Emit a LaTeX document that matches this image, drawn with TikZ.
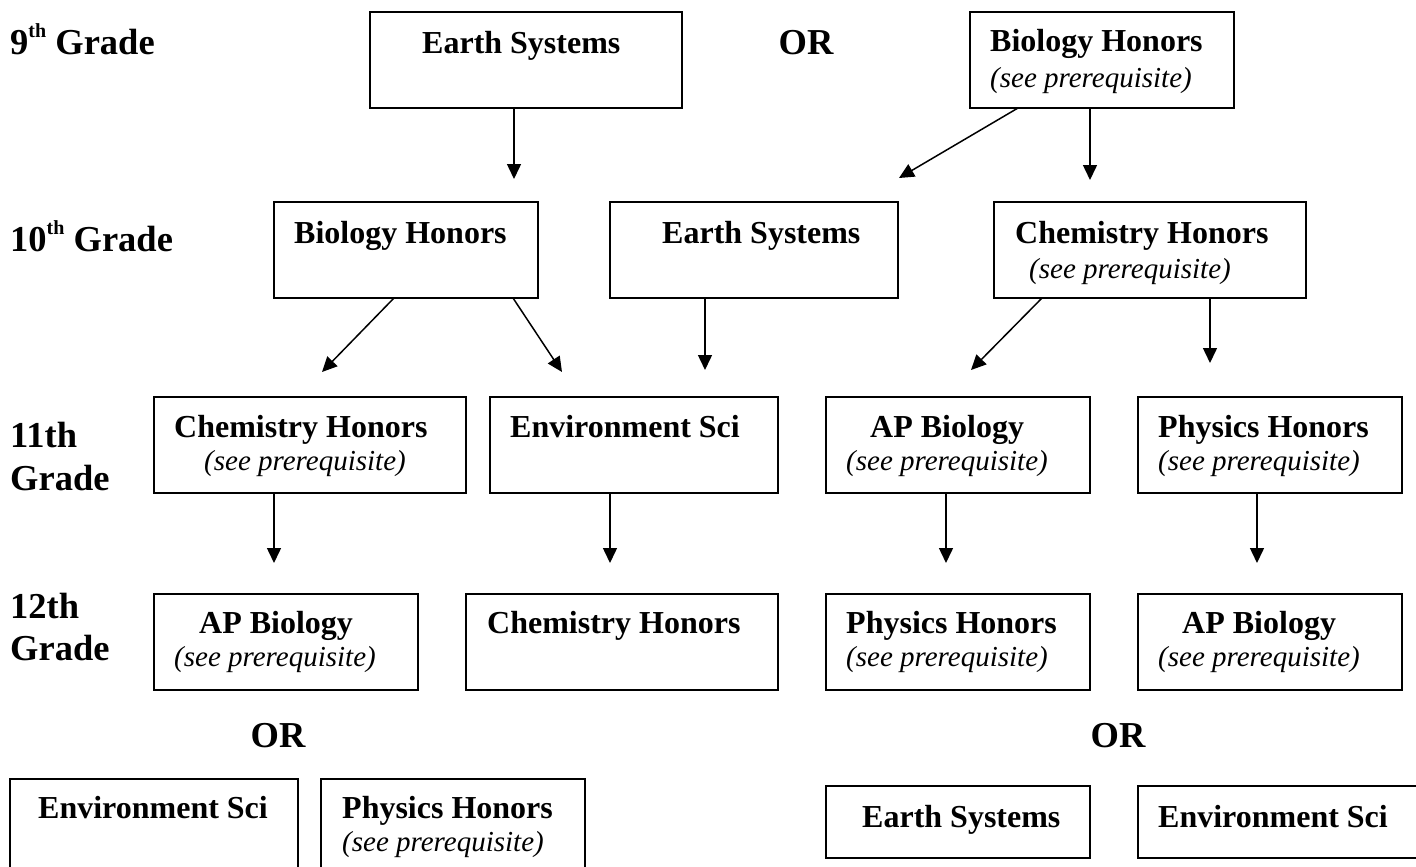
\documentclass[tikz,border=0pt]{standalone}
\usepackage{fontspec}
\setmainfont{Liberation Serif}
\usetikzlibrary{arrows.meta}
\newcommand{\supth}{\raisebox{17pt}{\fontsize{20}{20}\selectfont th}}
\tikzset{
  box/.style={draw, line width=2pt, rectangle, inner sep=0pt, outer sep=0pt},
  bt/.style={inner sep=0pt, anchor=base west, font=\fontsize{32}{38}\selectfont\bfseries},
  it/.style={inner sep=0pt, anchor=base west, font=\fontsize{29}{34}\selectfont\itshape},
  gl/.style={inner sep=0pt, anchor=base west, font=\fontsize{36.5}{42}\selectfont\bfseries},
  orl/.style={inner sep=0pt, anchor=base, font=\fontsize{36.5}{42}\selectfont\bfseries},
  arr/.style={line width=1.5pt, -{Triangle[length=15pt,width=14pt]}}
}
\begin{document}
\begin{tikzpicture}[x=1pt,y=-1pt]
\useasboundingbox (0,0) rectangle (1416,867);
\clip (0,0) rectangle (1416,867);

% grade labels
\node[gl] (g9) at (10,55) {9\supth\ Grade};
\node[gl] (g10) at (10,251) {10\supth\ Grade};
\node[gl] (g11a) at (10,447) {11th};
\node[gl] (g11b) at (10,490) {Grade};
\node[gl] (g12a) at (10,618) {12th};
\node[gl] (g12b) at (10,660) {Grade};

% OR labels
\node[orl] (or1) at (806,55) {OR};
\node[orl] (or2) at (278,747) {OR};
\node[orl] (or3) at (1118,747) {OR};

% boxes
\node[box, minimum width=312pt, minimum height=96pt] (es9) at (526,60) {};
\node[box, minimum width=264pt, minimum height=96pt] (bh9) at (1102,60) {};
\node[box, minimum width=264pt, minimum height=96pt] (bh10) at (406,250) {};
\node[box, minimum width=288pt, minimum height=96pt] (es10) at (754,250) {};
\node[box, minimum width=312pt, minimum height=96pt] (ch10) at (1150,250) {};
\node[box, minimum width=312pt, minimum height=96pt] (ch11) at (310,445) {};
\node[box, minimum width=288pt, minimum height=96pt] (es11) at (634,445) {};
\node[box, minimum width=264pt, minimum height=96pt] (ap11) at (958,445) {};
\node[box, minimum width=264pt, minimum height=96pt] (ph11) at (1270,445) {};
\node[box, minimum width=264pt, minimum height=96pt] (ap12) at (286,642) {};
\node[box, minimum width=312pt, minimum height=96pt] (ch12) at (622,642) {};
\node[box, minimum width=264pt, minimum height=96pt] (ph12) at (958,642) {};
\node[box, minimum width=264pt, minimum height=96pt] (ap12b) at (1270,642) {};
\node[box, minimum width=288pt, minimum height=122pt] (envl) at (154,840) {};
\node[box, minimum width=264pt, minimum height=122pt] (phl) at (453,840) {};
\node[box, minimum width=264pt, minimum height=72pt] (esr) at (958,822) {};
\node[box, minimum width=292pt, minimum height=72pt] (envr) at (1284,822) {};

% box texts
\node[bt] (t1) at (422,53) {Earth Systems};
\node[bt] (t2) at (990,52) {Biology Honors};
\node[it] (t3) at (990,87) {(see prerequisite)};
\node[bt] (t4) at (294,243) {Biology Honors};
\node[bt] (t5) at (662,243) {Earth Systems};
\node[bt] (t6) at (1015,243) {Chemistry Honors};
\node[it] (t7) at (1029,278) {(see prerequisite)};
\node[bt] (t8) at (174,437) {Chemistry Honors};
\node[it] (t9) at (204,470) {(see prerequisite)};
\node[bt] (t10) at (510,437) {Environment Sci};
\node[bt] (t11) at (870,437) {AP Biology};
\node[it] (t12) at (846,470) {(see prerequisite)};
\node[bt] (t13) at (1158,437) {Physics Honors};
\node[it] (t14) at (1158,470) {(see prerequisite)};
\node[bt] (t15) at (199,633) {AP Biology};
\node[it] (t16) at (174,666) {(see prerequisite)};
\node[bt] (t17) at (487,633) {Chemistry Honors};
\node[bt] (t18) at (846,633) {Physics Honors};
\node[it] (t19) at (846,666) {(see prerequisite)};
\node[bt] (t20) at (1182,633) {AP Biology};
\node[it] (t21) at (1158,666) {(see prerequisite)};
\node[bt] (t22) at (38,818) {Environment Sci};
\node[bt] (t23) at (342,818) {Physics Honors};
\node[it] (t24) at (342,851) {(see prerequisite)};
\node[bt] (t25) at (862,827) {Earth Systems};
\node[bt] (t26) at (1158,827) {Environment Sci};

% arrow tips
\coordinate (p1) at (514,179);
\coordinate (p2) at (899,178);
\coordinate (p3) at (1090,180);
\coordinate (p4) at (322,372);
\coordinate (p5) at (562,372);
\coordinate (p6) at (705,370);
\coordinate (p7) at (971,370);
\coordinate (p8) at (1210,363);
\coordinate (p9) at (274,563);
\coordinate (p10) at (610,563);
\coordinate (p11) at (946,563);
\coordinate (p12) at (1257,563);

% arrows
\draw[arr] ([xshift=-12pt]es9.south) -- (p1);
\draw[arr] ([xshift=-84pt]bh9.south) -- (p2);
\draw[arr] ([xshift=-12pt]bh9.south) -- (p3);
\draw[arr] ([xshift=-12pt]bh10.south) -- (p4);
\draw[arr] ([xshift=107pt]bh10.south) -- (p5);
\draw[arr] ([xshift=-49pt]es10.south) -- (p6);
\draw[arr] ([xshift=-108pt]ch10.south) -- (p7);
\draw[arr] ([xshift=60pt]ch10.south) -- (p8);
\draw[arr] ([xshift=-36pt]ch11.south) -- (p9);
\draw[arr] ([xshift=-24pt]es11.south) -- (p10);
\draw[arr] ([xshift=-12pt]ap11.south) -- (p11);
\draw[arr] ([xshift=-13pt]ph11.south) -- (p12);
\end{tikzpicture}
\end{document}
